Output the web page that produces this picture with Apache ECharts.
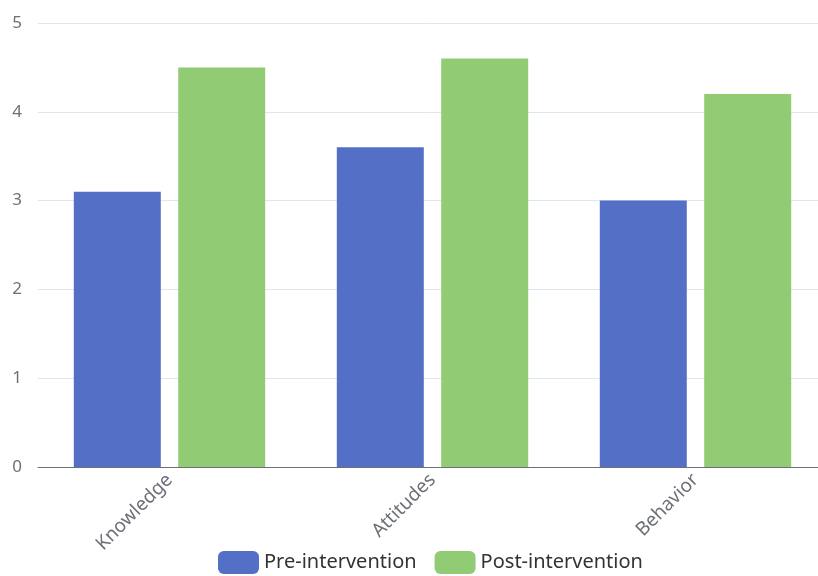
<!DOCTYPE html>
<html>
<head>
<meta charset="utf-8">
<script src="https://cdn.jsdelivr.net/npm/echarts@6/dist/echarts.min.js"></script>
<style>
  html, body { margin: 0; padding: 0; background: #fff; }
  #chart { width: 818px; height: 576px; }
</style>
</head>
<body>
<div id="chart"></div>
<script>
// Mean scores before and after the intervention, by domain
const categories = ['Knowledge', 'Attitudes', 'Behavior'];
const preIntervention = [3.1, 3.6, 3.0];
const postIntervention = [4.5, 4.6, 4.2];
const seriesNames = ['Pre-intervention', 'Post-intervention'];

const fontFamily = '"Noto Sans", "Open Sans", sans-serif';

const chart = echarts.init(document.getElementById('chart'));
chart.setOption({
  animation: false,
  color: ['#5470c6', '#91cc75'],
  // plot area runs slightly past the right edge of the canvas
  grid: { left: 38, width: 789, top: 23, bottom: 109, containLabel: false, outerBoundsMode: 'none' },
  legend: {
    data: seriesNames,
    bottom: -3,
    left: 213,
    itemWidth: 41,
    itemHeight: 23,
    itemGap: 18,
    textStyle: { fontSize: 20, color: '#333', fontFamily: fontFamily }
  },
  xAxis: {
    type: 'category',
    data: categories,
    axisLine: { lineStyle: { color: '#6e7079' } },
    axisTick: { length: 5 },
    axisLabel: { rotate: 45, fontSize: 19, color: '#6e7079', margin: 10, fontFamily: fontFamily }
  },
  yAxis: {
    type: 'value',
    min: 0,
    max: 5,
    interval: 1,
    axisLabel: { fontSize: 17, color: '#6e7079', margin: 16, fontFamily: fontFamily },
    splitLine: { lineStyle: { color: '#e0e6f1' } }
  },
  series: [
    { name: seriesNames[0], type: 'bar', data: preIntervention, barWidth: 87, barGap: '20%' },
    { name: seriesNames[1], type: 'bar', data: postIntervention, barWidth: 87, barGap: '20%' }
  ]
});
</script>
</body>
</html>
